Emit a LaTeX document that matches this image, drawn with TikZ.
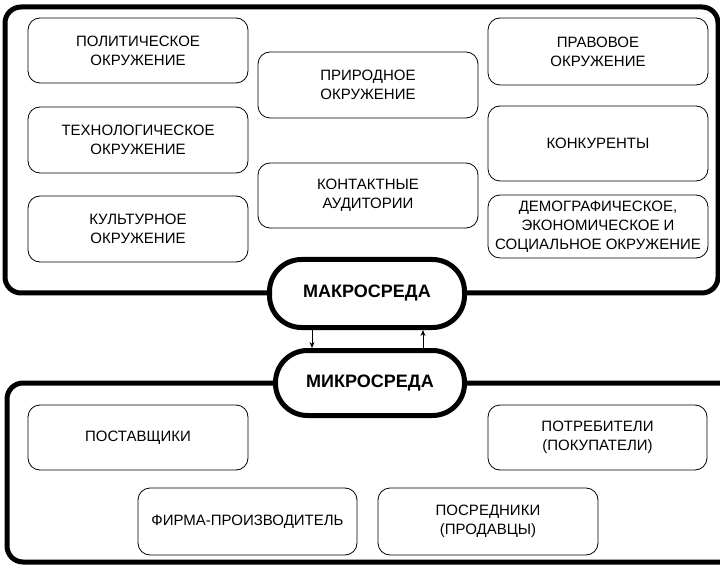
\documentclass[tikz,border=0pt]{standalone}
\usepackage{fontspec}
\setmainfont{Liberation Sans}
\usetikzlibrary{arrows.meta}
\begin{document}
\begin{tikzpicture}[x=1pt,y=-1pt,
  frame/.style={draw, line width=5pt, rounded corners=16pt},
  box/.style={draw, line width=0.8pt, rounded corners=12pt, align=center,
    inner sep=0pt, minimum width=220pt,
    font=\fontsize{15}{19}\selectfont},
  env/.style={draw, line width=5pt, fill=white, rounded corners=32pt,
    inner sep=0pt, font=\bfseries\fontsize{18}{22}\selectfont},
  link/.style={line width=0.8pt, -{Stealth[length=6pt,width=5pt]}}]
\useasboundingbox (0,0) rectangle (720,569);

% outer frames: macro- and micro-environment
\draw[frame] (5,7) rectangle (718,293);
\draw[frame] (7,383) rectangle (745,562);

% macro-environment factors
\node[box, minimum height=65pt] (pol)  at (138,50.5)  {ПОЛИТИЧЕСКОЕ\\ОКРУЖЕНИЕ};
\node[box, minimum height=66pt] (tech) at (138,140)   {ТЕХНОЛОГИЧЕСКОЕ\\ОКРУЖЕНИЕ};
\node[box, minimum height=66pt] (kult) at (138,229)   {КУЛЬТУРНОЕ\\ОКРУЖЕНИЕ};
\node[box, minimum height=66pt] (prir) at (368,85)    {ПРИРОДНОЕ\\ОКРУЖЕНИЕ};
\node[box, minimum height=65pt] (kont) at (368,195.5) {КОНТАКТНЫЕ\\АУДИТОРИИ};
\node[box, minimum height=67pt] (prav) at (598,51.5)  {ПРАВОВОЕ\\ОКРУЖЕНИЕ};
\node[box, minimum height=75pt] (konk) at (598,143.5) {КОНКУРЕНТЫ};
\node[box, minimum height=63pt] (demo) at (598,226.5) {ДЕМОГРАФИЧЕСКОЕ,\\ЭКОНОМИЧЕСКОЕ И\\СОЦИАЛЬНОЕ ОКРУЖЕНИЕ};

% micro-environment participants
\node[box, minimum height=65pt] (post) at (138,437.5)   {ПОСТАВЩИКИ};
\node[box, minimum height=65pt, minimum width=219pt] (potr) at (597.5,437.5) {ПОТРЕБИТЕЛИ\\(ПОКУПАТЕЛИ)};
\node[box, minimum height=67pt, minimum width=219pt] (firm) at (247.5,521.5) {ФИРМА-ПРОИЗВОДИТЕЛЬ};
\node[box, minimum height=67pt] (posr) at (488,521.5)   {ПОСРЕДНИКИ\\(ПРОДАВЦЫ)};

% environment labels sitting on the frame lines
\node[env, minimum width=195pt, minimum height=68pt] (macro) at (367,293.5) {МАКРОСРЕДА};
\node[env, minimum width=189pt, minimum height=65pt] (micro) at (370,383)   {МИКРОСРЕДА};

% mutual influence
\draw[link] ([xshift=-55pt]macro.south) -- ([xshift=-55pt]macro.south |- micro.north);
\draw[link] ([xshift=53pt]micro.north) -- ([xshift=53pt]micro.north |- macro.south);
\end{tikzpicture}
\end{document}
